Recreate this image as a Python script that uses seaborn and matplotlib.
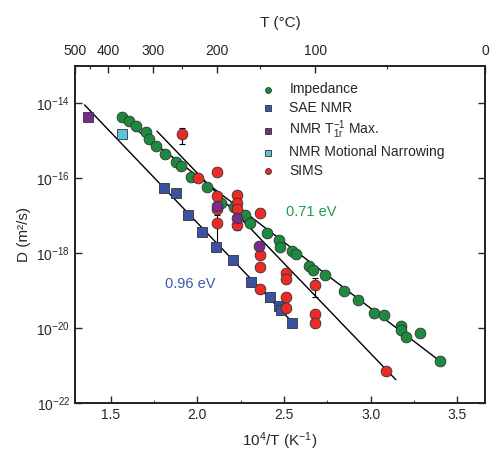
import numpy as np
import matplotlib
matplotlib.use('Agg')
import matplotlib.pyplot as plt
import seaborn as sns

# --- данные (x = 10^4/T по подписи оси, y = log10 D) ---
imp_x = [1.566, 1.603, 1.644, 1.703, 1.722, 1.763, 1.813, 1.879, 1.906, 1.966,
         2.054, 2.139, 2.209, 2.274, 2.305, 2.401, 2.470, 2.479, 2.547, 2.570,
         2.642, 2.665, 2.737, 2.846, 2.929, 3.018, 3.075, 3.175, 3.175, 3.203,
         3.286, 3.399]
imp_logd = [-14.37, -14.46, -14.60, -14.77, -14.94, -15.14, -15.35, -15.56, -15.68, -15.97,
            -16.24, -16.65, -16.77, -16.98, -17.20, -17.45, -17.65, -17.83, -17.93, -18.02,
            -18.34, -18.46, -18.58, -19.02, -19.25, -19.59, -19.66, -19.94, -20.05, -20.23,
            -20.14, -20.88]

sae_x = [1.807, 1.874, 1.945, 2.025, 2.108, 2.203, 2.309, 2.417, 2.472, 2.481, 2.546]
sae_logd = [-16.25, -16.38, -16.98, -17.44, -17.83, -18.18, -18.76, -19.18, -19.42, -19.52, -19.86]

t1_x = [1.366]
t1_logd = [-14.37]
t1c_x = [2.112, 2.228, 2.357]
t1c_logd = [-16.74, -17.07, -17.81]

mn_x = [1.566]
mn_logd = [-14.82]

sims_x = [1.912, 2.004, 2.112, 2.112, 2.112, 2.112, 2.228, 2.228, 2.228, 2.228,
          2.359, 2.359, 2.359, 2.359, 2.510, 2.510, 2.510, 2.510, 2.679, 2.679,
          2.679, 3.092]
sims_logd = [-14.82, -16.0, -15.84, -16.47, -16.82, -17.18, -16.45, -16.67, -16.81, -17.25,
             -16.92, -18.06, -18.38, -18.96, -18.54, -18.68, -19.18, -19.45, -18.85, -19.61,
             -19.87, -21.14]

# погрешности SIMS: x, log10 D, нижняя и верхняя граница
err_x = [1.912, 2.112, 2.228, 2.679]
err_logd = [-14.82, -17.18, -17.25, -18.85]
err_lo = [-15.07, -17.81, -17.38, -19.17]
err_hi = [-14.66, -16.98, -17.25, -18.67]

# аппроксимации Аррениуса: (x от, x до, энергия эВ, log10 D в начале)
fits = [(1.349, 2.571, 0.96, -14.04),
        (1.767, 3.146, 0.955, -14.74),
        (1.575, 3.399, 0.70, -14.44)]

temps_major = [500, 400, 300, 200, 100, 0]
temps_minor = [450, 350, 250, 150, 50]

c_green = '#1d8a40'
c_blue = '#3a52a3'
c_purple = '#7a2a8a'
c_cyan = '#5cc4d6'
c_red = '#ee2a24'

sns.set_style('ticks')
plt.rcParams['font.family'] = ['Liberation Sans', 'DejaVu Sans']
plt.rcParams['mathtext.fontset'] = 'custom'
plt.rcParams['mathtext.rm'] = 'Liberation Sans'
plt.rcParams['mathtext.it'] = 'Liberation Sans:italic'
plt.rcParams['mathtext.default'] = 'regular'

fig = plt.figure(figsize=(4.91, 4.55), dpi=100)
ax = fig.add_axes([0.1527, 0.1143, 0.8351, 0.7406])

# ось фактически 1000/T (K)
k_ln10 = 8.617e-5 * 1e3 * np.log(10)
for x0, x1, ea, y0 in fits:
    xs = np.array([x0, x1])
    ys = 10 ** (y0 - ea / k_ln10 * (xs - x0))
    ax.plot(xs, ys, color='black', lw=1.0, zorder=2)

ax.errorbar(err_x, 10 ** np.array(err_logd),
            yerr=[10 ** np.array(err_logd) - 10 ** np.array(err_lo),
                  10 ** np.array(err_hi) - 10 ** np.array(err_logd)],
            fmt='none', ecolor='black', elinewidth=0.8, capsize=2.5, capthick=0.8, zorder=2)

kw = dict(ax=ax, edgecolor='#333333', linewidth=0.6, zorder=3)
sns.scatterplot(x=imp_x, y=10 ** np.array(imp_logd), color=c_green, marker='o', s=60,
                label='Impedance', **kw)
sns.scatterplot(x=sae_x, y=10 ** np.array(sae_logd), color=c_blue, marker='s', s=52,
                label='SAE NMR', **kw)
sns.scatterplot(x=t1_x, y=10 ** np.array(t1_logd), color=c_purple, marker='s', s=52,
                label='NMR T$_{1r}^{-1}$ Max.', **kw)
sns.scatterplot(x=mn_x, y=10 ** np.array(mn_logd), color=c_cyan, marker='s', s=52,
                label='NMR Motional Narrowing', **kw)
sns.scatterplot(x=sims_x, y=10 ** np.array(sims_logd), color=c_red, marker='o', s=60,
                label='SIMS', **kw)
sns.scatterplot(x=t1c_x, y=10 ** np.array(t1c_logd), color=c_purple, marker='o', s=60,
                legend=False, **kw)

ax.set_yscale('log')
xlim = (1e3 / 773.15, 1e3 / 273.15)
ax.set_xlim(xlim)
ax.set_ylim(1e-22, 1e-13)
ax.set_xticks([1.5, 2.0, 2.5, 3.0, 3.5])
ax.set_xticks([1.75, 2.25, 2.75, 3.25], minor=True)
ax.set_xlabel('10$^4$/T (K$^{-1}$)', fontsize=11, labelpad=6)
ax.set_ylabel('D (m²/s)', fontsize=11)
ax.tick_params(which='both', direction='in', top=False, right=True, labelsize=10)
ax.tick_params(which='major', length=5, width=1)
ax.tick_params(which='minor', length=2.5, width=0.6)
for sp in ax.spines.values():
    sp.set_linewidth(1.4)

# верхняя ось температур
ax2 = ax.twiny()
ax2.set_xlim(xlim)
ax2.set_xticks([1e3 / (t + 273.15) for t in temps_major])
ax2.set_xticklabels([str(t) for t in temps_major])
ax2.set_xticks([1e3 / (t + 273.15) for t in temps_minor], minor=True)
ax2.tick_params(which='both', direction='in', labelsize=10, pad=6)
ax2.tick_params(which='major', length=5, width=1)
ax2.tick_params(which='minor', length=2.5, width=0.8)
ax2.set_xlabel('T (°C)', fontsize=11, labelpad=12)
for sp in ax2.spines.values():
    sp.set_linewidth(1.4)

ax.text(2.51, 10 ** -16.9, '0.71 eV', color='#22994a', fontsize=10.5, va='center', ha='left')
ax.text(1.814, 10 ** -18.82, '0.96 eV', color='#3d58ad', fontsize=10.5, va='center', ha='left')

leg = ax.legend(loc='upper left', bbox_to_anchor=(0.44, 0.968), frameon=False,
                fontsize=10, markerscale=0.55, handletextpad=1.05, labelspacing=0.3,
                handlelength=1.0, borderaxespad=0)

fig.savefig('out.png', dpi=100)
